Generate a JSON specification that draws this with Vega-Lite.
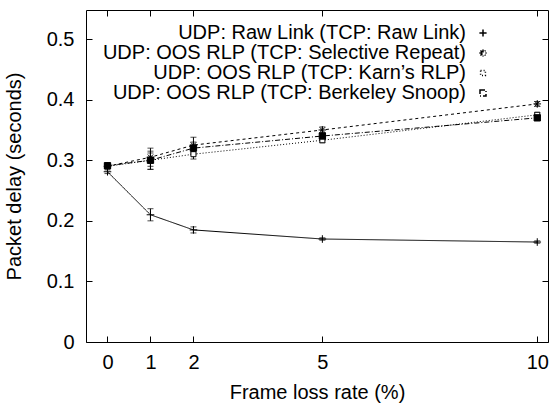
{
  "$schema": "https://vega.github.io/schema/vega-lite/v6.json",
  "width": 462,
  "height": 332,
  "autosize": {"type": "none"},
  "padding": {"left": 86, "top": 10, "right": 8, "bottom": 63},
  "background": "white",
  "config": {
    "view": {"stroke": "black", "strokeWidth": 1},
    "font": "Liberation Sans",
    "axis": {"labelFont": "Liberation Sans", "titleFont": "Liberation Sans", "labelFontSize": 20, "titleFontSize": 20, "titleFontWeight": "normal", "labelColor": "black", "titleColor": "black", "tickColor": "black", "domain": false, "grid": false},
    "legend": {"labelFont": "Liberation Sans", "labelFontSize": 20, "labelColor": "black", "labelLimit": 0}
  },
  "data": {
    "values": [
      {"series": "UDP: Raw Link (TCP: Raw Link)", "x": 0, "y": 0.281, "lo": 0.278, "hi": 0.284},
      {"series": "UDP: Raw Link (TCP: Raw Link)", "x": 1, "y": 0.210, "lo": 0.200, "hi": 0.220},
      {"series": "UDP: Raw Link (TCP: Raw Link)", "x": 2, "y": 0.185, "lo": 0.180, "hi": 0.190},
      {"series": "UDP: Raw Link (TCP: Raw Link)", "x": 5, "y": 0.170, "lo": 0.168, "hi": 0.172},
      {"series": "UDP: Raw Link (TCP: Raw Link)", "x": 10, "y": 0.165, "lo": 0.163, "hi": 0.167},
      {"series": "UDP: OOS RLP (TCP: Selective Repeat)", "x": 0, "y": 0.290, "lo": 0.287, "hi": 0.293},
      {"series": "UDP: OOS RLP (TCP: Selective Repeat)", "x": 1, "y": 0.305, "lo": 0.290, "hi": 0.320},
      {"series": "UDP: OOS RLP (TCP: Selective Repeat)", "x": 2, "y": 0.325, "lo": 0.312, "hi": 0.338},
      {"series": "UDP: OOS RLP (TCP: Selective Repeat)", "x": 5, "y": 0.350, "lo": 0.345, "hi": 0.355},
      {"series": "UDP: OOS RLP (TCP: Selective Repeat)", "x": 10, "y": 0.393, "lo": 0.389, "hi": 0.397},
      {"series": "UDP: OOS RLP (TCP: Karn’s RLP)", "x": 0, "y": 0.290, "lo": 0.287, "hi": 0.293},
      {"series": "UDP: OOS RLP (TCP: Karn’s RLP)", "x": 1, "y": 0.300, "lo": 0.285, "hi": 0.315},
      {"series": "UDP: OOS RLP (TCP: Karn’s RLP)", "x": 2, "y": 0.310, "lo": 0.302, "hi": 0.318},
      {"series": "UDP: OOS RLP (TCP: Karn’s RLP)", "x": 5, "y": 0.333, "lo": 0.329, "hi": 0.337},
      {"series": "UDP: OOS RLP (TCP: Karn’s RLP)", "x": 10, "y": 0.375, "lo": 0.371, "hi": 0.379},
      {"series": "UDP: OOS RLP (TCP: Berkeley Snoop)", "x": 0, "y": 0.291, "lo": 0.288, "hi": 0.294},
      {"series": "UDP: OOS RLP (TCP: Berkeley Snoop)", "x": 1, "y": 0.300, "lo": 0.285, "hi": 0.312},
      {"series": "UDP: OOS RLP (TCP: Berkeley Snoop)", "x": 2, "y": 0.320, "lo": 0.310, "hi": 0.330},
      {"series": "UDP: OOS RLP (TCP: Berkeley Snoop)", "x": 5, "y": 0.340, "lo": 0.335, "hi": 0.345},
      {"series": "UDP: OOS RLP (TCP: Berkeley Snoop)", "x": 10, "y": 0.370, "lo": 0.366, "hi": 0.374}
    ]
  },
  "layer": [
    {
      "mark": {"type": "line", "strokeWidth": 1, "color": "black"},
      "encoding": {
        "x": {"field": "x", "type": "quantitative", "scale": {"domain": [-0.5, 10.25], "nice": false, "zero": false},
              "axis": {"orient": "bottom", "values": [0, 1, 2, 5, 10], "tickSize": -6, "labelPadding": 16, "title": "Frame loss rate (%)", "titlePadding": 10}},
        "y": {"field": "y", "type": "quantitative", "scale": {"domain": [0, 0.548], "nice": false},
              "axis": {"orient": "left", "values": [0, 0.1, 0.2, 0.3, 0.4, 0.5], "format": "~g", "tickSize": -6, "labelPadding": 18, "title": "Packet delay (seconds)", "titlePadding": 22}},
        "detail": {"field": "series"},
        "strokeDash": {"field": "series", "type": "nominal",
          "scale": {"domain": ["UDP: Raw Link (TCP: Raw Link)", "UDP: OOS RLP (TCP: Selective Repeat)", "UDP: OOS RLP (TCP: Karn’s RLP)", "UDP: OOS RLP (TCP: Berkeley Snoop)"],
                    "range": [[1, 0], [3, 3], [1, 2], [5, 2, 1, 2]]},
          "legend": {
            "orient": "none", "legendX": 387, "legendY": 13, "title": null, "padding": 0,
            "labelAlign": "right", "labelOffset": -27, "rowPadding": 0, "symbolSize": 36,
            "encode": {
              "labels": {"lineHeight": {"value": 17}},
              "symbols": {
                "shape": {"value": {"expr": "indexof(datum.value,'Raw Link (')>=0 ? 'M-9.33,0H9.33M0,-1.2V1.2' : indexof(datum.value,'Selective')>=0 ? 'M-9.33,0H9.33M0,-1.2V1.2M-0.85,-0.85L0.85,0.85M-0.85,0.85L0.85,-0.85' : indexof(datum.value,'Karn')>=0 ? 'M-9.33,0H-0.8M0.8,0H9.33M-0.8,-0.8H0.8V0.8H-0.8Z' : 'M-9.33,0H9.33M-1,-1H1V1H-1Z'"}},
                "fill": {"value": {"expr": "indexof(datum.value,'Snoop')>=0 ? 'black' : indexof(datum.value,'Karn')>=0 ? 'white' : 'transparent'"}},
                "stroke": {"value": "black"},
                "strokeWidth": {"value": 1},
                "strokeDash": {"value": {"expr": "indexof(datum.value,'Raw Link (')>=0 ? [1,0] : indexof(datum.value,'Selective')>=0 ? [3,3] : indexof(datum.value,'Karn')>=0 ? [1,2] : [5,2,1,2]"}},
                "size": {"value": 36},
                "opacity": {"value": 1}
              }
            }
          }}
      }
    },
    {
      "mark": {"type": "errorbar", "ticks": {"size": 6, "color": "black"}, "rule": {"color": "black", "strokeWidth": 1}},
      "encoding": {
        "x": {"field": "x", "type": "quantitative", "axis": null},
        "y": {"field": "lo", "type": "quantitative", "axis": null},
        "y2": {"field": "hi"},
        "detail": {"field": "series"}
      }
    },
    {
      "mark": {"type": "point", "stroke": "black", "strokeWidth": 1, "opacity": 1, "filled": false},
      "encoding": {
        "x": {"field": "x", "type": "quantitative", "axis": null},
        "y": {"field": "y", "type": "quantitative", "axis": null},
        "shape": {"field": "series", "type": "nominal",
          "scale": {"domain": ["UDP: Raw Link (TCP: Raw Link)", "UDP: OOS RLP (TCP: Selective Repeat)", "UDP: OOS RLP (TCP: Karn’s RLP)", "UDP: OOS RLP (TCP: Berkeley Snoop)"],
                    "range": ["M-1.2,0H1.2M0,-1.2V1.2", "M-1.2,0H1.2M0,-1.2V1.2M-0.85,-0.85L0.85,0.85M-0.85,0.85L0.85,-0.85", "M-0.8,-0.8H0.8V0.8H-0.8Z", "M-1,-1H1V1H-1Z"]},
          "legend": {
            "orient": "none", "legendX": 387, "legendY": 13, "title": null, "padding": 0,
            "labelAlign": "right", "labelOffset": -27, "rowPadding": 0, "symbolSize": 36,
            "encode": {
              "labels": {"lineHeight": {"value": 17}},
              "symbols": {
                "shape": {"value": {"expr": "indexof(datum.value,'Raw Link (')>=0 ? 'M-9.33,0H9.33M0,-1.2V1.2' : indexof(datum.value,'Selective')>=0 ? 'M-9.33,0H9.33M0,-1.2V1.2M-0.85,-0.85L0.85,0.85M-0.85,0.85L0.85,-0.85' : indexof(datum.value,'Karn')>=0 ? 'M-9.33,0H-0.8M0.8,0H9.33M-0.8,-0.8H0.8V0.8H-0.8Z' : 'M-9.33,0H9.33M-1,-1H1V1H-1Z'"}},
                "fill": {"value": {"expr": "indexof(datum.value,'Snoop')>=0 ? 'black' : indexof(datum.value,'Karn')>=0 ? 'white' : 'transparent'"}},
                "stroke": {"value": "black"},
                "strokeWidth": {"value": 1},
                "strokeDash": {"value": {"expr": "indexof(datum.value,'Raw Link (')>=0 ? [1,0] : indexof(datum.value,'Selective')>=0 ? [3,3] : indexof(datum.value,'Karn')>=0 ? [1,2] : [5,2,1,2]"}},
                "size": {"value": 36},
                "opacity": {"value": 1}
              }
            }
          }},
        "fill": {"condition": {"test": "indexof(datum.series,'Snoop')>=0", "value": "black"}, "value": "white"},
        "size": {"value": 40}
      }
    },
    {
      "mark": {"type": "point", "opacity": 0},
      "encoding": {
        "x": {"field": "x", "type": "quantitative", "axis": {"orient": "top", "values": [0, 1, 2, 5, 10], "tickSize": -6, "labels": false, "title": null}},
        "y": {"field": "y", "type": "quantitative", "axis": {"orient": "right", "values": [0, 0.1, 0.2, 0.3, 0.4, 0.5], "tickSize": -6, "labels": false, "title": null}}
      }
    }
  ],
  "resolve": {"axis": {"x": "independent", "y": "independent"}}
}
